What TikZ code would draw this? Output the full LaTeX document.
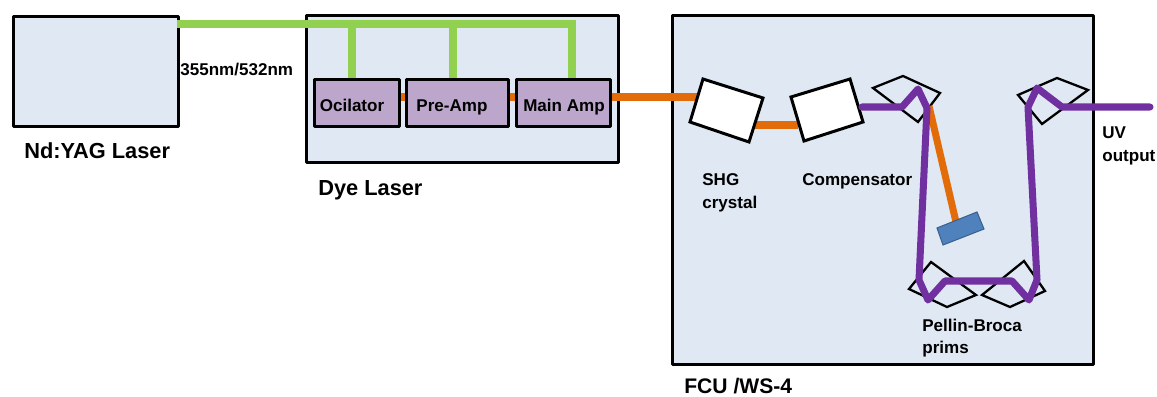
\documentclass[tikz,border=0pt]{standalone}
\usepackage{fontspec}
\setmainfont{Liberation Sans}
\definecolor{panel}{HTML}{DFE8F3}
\definecolor{stage}{HTML}{BCA6CC}
\definecolor{beamgreen}{HTML}{92D050}
\definecolor{beamorange}{HTML}{E36C0A}
\definecolor{beampurple}{HTML}{7030A0}
\definecolor{gratingblue}{HTML}{4F81BD}
\tikzset{
  panelbox/.style={draw=black,fill=panel,line width=1.7pt,rectangle,inner sep=0pt,anchor=north west,line join=round},
  stagebox/.style={draw=black,fill=stage,line width=1.7pt,rectangle,inner sep=0pt,anchor=north west,line join=round},
  stagelabel/.style={anchor=base,inner sep=0pt,font=\bfseries\fontsize{9.7}{11}\selectfont},
  optic/.style={draw=black,fill=white,line width=1.7pt,line join=miter},
  prism/.style={draw=black,line width=1.3pt,line join=miter},
  grating/.style={draw=gratingblue!75!black,fill=gratingblue,line width=.6pt},
  green beam/.style={draw=beamgreen,line width=4pt},
  orange beam/.style={draw=beamorange,line width=4pt},
  purple beam/.style={draw=beampurple,line width=4pt,line join=round,line cap=round},
  biglabel/.style={anchor=base west,inner sep=0pt,font=\bfseries\fontsize{12.4}{14}\selectfont},
  smalllabel/.style={anchor=base west,inner sep=0pt,font=\bfseries\fontsize{9.7}{11}\selectfont},
}
\begin{document}
\begin{tikzpicture}[x=0.02cm,y=-0.02cm]
\useasboundingbox (0,0) rectangle (1157,396);
% panels
\node[panelbox,minimum width=3.3cm,minimum height=2.2cm] (yag) at (12,15) {};
\node[panelbox,minimum width=6.24cm,minimum height=2.94cm] (dye) at (305,14) {};
\node[panelbox,minimum width=8.42cm,minimum height=6.98cm] (fcu) at (671,14) {};
% stages
\node[stagebox,minimum width=1.7cm,minimum height=.94cm] (osc) at (313,78) {};
\node[stagebox,minimum width=2.04cm,minimum height=.94cm] (pre) at (405,78) {};
\node[stagebox,minimum width=1.88cm,minimum height=.94cm] (main) at (515,78) {};
\node[stagelabel] (losc) at (352,111) {Ocilator};
\node[stagelabel] (lpre) at (452,111) {Pre-Amp};
\node[stagelabel] (lmain) at (564,111) {Main Amp};
% orange beams behind optics
\coordinate (shgin) at (697,97);
\coordinate (shgout) at (752,125);
\coordinate (compin) at (798,125);
\coordinate (prismhit) at (929,106);
\coordinate (gratinghit) at (956,222);
\draw[orange beam] (osc.east |- 0,97) -- (pre.west |- 0,97);
\draw[orange beam] (pre.east |- 0,97) -- (main.west |- 0,97);
\draw[orange beam] (main.east |- 0,97) -- (shgin);
\draw[orange beam] (shgout) -- (compin);
% green beams
\coordinate (g0) at (177,24);
\coordinate (g1) at (352,24);
\coordinate (g2) at (453,24);
\coordinate (g3) at (572,24);
\draw[green beam,line join=miter] (g0) -- (g3) -- (main.north -| g3);
\draw[green beam] (g1) -- (osc.north -| g1);
\draw[green beam] (g2) -- (pre.north -| g2);
% prisms
\draw[prism] (873,88) -- (903,76) -- (940,93) -- (918,122) -- cycle;
\draw[prism] (1018,95) -- (1057,78) -- (1088,90) -- (1042,124) -- cycle;
\draw[prism] (909,289) -- (931,262) -- (976,295) -- (947,307) -- cycle;
\draw[prism] (982,295) -- (1024,261) -- (1045,291) -- (1010,307) -- cycle;
% optics
\draw[optic] (703,79) -- (763,98) -- (749,142) -- (690,122) -- cycle;
\draw[optic] (791,97) -- (850,79) -- (863,122) -- (804,141) -- cycle;
% pump residual to grating
\draw[orange beam] (prismhit) -- (gratinghit);
\draw[grating] (937,228) -- (977,212) -- (984,229) -- (943,245) -- cycle;
% UV beam
\coordinate (p0) at (862,107);
\coordinate (p1) at (902,107);
\coordinate (p2) at (918,89);
\coordinate (p3) at (927,108);
\coordinate (p4) at (919,280);
\coordinate (p5) at (928,300);
\coordinate (p6) at (945,281);
\coordinate (p7) at (1012,281);
\coordinate (p8) at (1029,300);
\coordinate (p9) at (1037,280);
\coordinate (p10) at (1028,107);
\coordinate (p11) at (1037,88);
\coordinate (p12) at (1062,107);
\coordinate (p13) at (1150,107);
\draw[purple beam] (p0) -- (p1) -- (p2) -- (p3) -- (p4) -- (p5) -- (p6) -- (p7) -- (p8) -- (p9) -- (p10) -- (p11) -- (p12) -- (p13);
% labels
\node[biglabel] (lyag) at (24,158) {Nd:YAG Laser};
\node[smalllabel] (lwave) at (180,75) {355nm/532nm};
\node[biglabel] (ldye) at (318,195) {Dye Laser};
\node[smalllabel] (lshg1) at (702,185) {SHG};
\node[smalllabel] (lshg2) at (702,208) {crystal};
\node[smalllabel] (lcomp) at (802,185) {Compensator};
\node[smalllabel] (lpb1) at (922,331) {Pellin-Broca};
\node[smalllabel] (lpb2) at (922,353) {prims};
\node[biglabel,font=\bfseries\fontsize{12}{14}\selectfont] (lfcu) at (684,393) {FCU /WS-4};
\node[smalllabel] (luv1) at (1102,138) {UV};
\node[smalllabel] (luv2) at (1102,161) {output};
\end{tikzpicture}
\end{document}
